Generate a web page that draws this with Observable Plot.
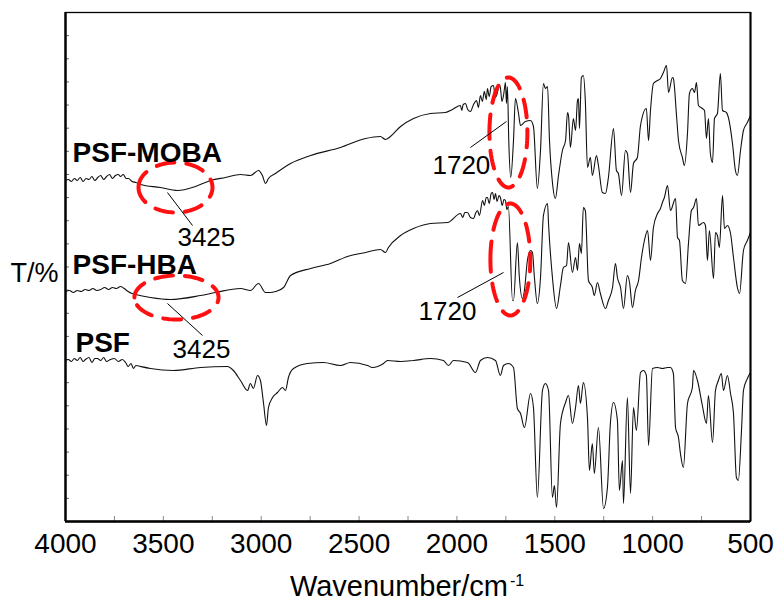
<!DOCTYPE html>
<html>
<head>
<meta charset="utf-8">
<script src="https://cdn.jsdelivr.net/npm/d3@7"></script>
<script src="https://cdn.jsdelivr.net/npm/@observablehq/plot@0.6"></script>
<style>
  html, body { margin: 0; padding: 0; background: #fff; }
  #chart { width: 777px; height: 609px; }
</style>
</head>
<body>
<div id="chart"></div>
<script>
// Wavenumber (cm^-1) and offset transmittance (arbitrary units)
const mobaWn = [4000,3985,3970,3955,3940,3925,3910,3895,3880,3865,3850,3835,3820,3805,3790,3775,3760,3745,3730,3719,3705,3690,3678,3660,3640,3617,3515,3428,3336,3259,3183,3106,3055,3014,2994,2978,2963,2927,2850,2748,2595,2467,2391,2365,2340,2288,2222,2135,2059,2023,1982,1975,1968,1956,1945,1931,1915,1900,1890,1880,1870,1860,1850,1844,1835,1825,1813,1805,1793,1785,1778,1770,1762,1755,1752,1747,1742,1735,1725,1711,1701,1686,1675,1650,1624,1609,1589,1573,1558,1548,1537,1527,1512,1497,1481,1461,1445,1435,1430,1420,1405,1394,1384,1379,1374,1364,1354,1344,1333,1318,1308,1287,1277,1257,1241,1226,1200,1185,1175,1159,1139,1129,1113,1098,1078,1062,1032,1021,1011,996,975,960,945,929,919,899,894,878,868,848,838,822,812,797,786,776,766,746,735,725,715,705,694,684,669,654,643,623,613,592,577,567,551,536,516,500];
const mobaT  = [341,342,340,343,341,344,340,343,342,345,341,344,346,342,345,347,343,346,347,345,347,343,343,340,339,337,334,331,335,341,344,347,346,351,346,338,343,348,358,366,374,383,385,382,385,395,403,408,409,412,416,411,417,418,412,410,417,421,414,426,420,430,422,433,425,435,436,424,429,437,434,420,426,436,439,418,435,380,344,381,423,409,396,400,401,395,333,371,438,433,435,381,339,323,346,371,381,409,406,374,403,391,421,423,393,444,446,421,354,364,346,366,356,329,328,344,393,351,348,326,371,368,329,358,364,396,413,381,411,438,441,443,449,456,429,444,443,406,381,364,356,388,428,433,429,439,416,413,411,383,403,368,359,403,408,448,411,409,404,378,351,346,371,391,399,406];

const hbaWn = [4000,3980,3960,3940,3920,3900,3880,3860,3840,3820,3800,3780,3760,3740,3719,3700,3680,3660,3642,3566,3464,3310,3234,3106,3055,3014,2978,2953,2927,2886,2850,2748,2646,2559,2467,2391,2365,2350,2288,2222,2135,2048,1982,1970,1960,1946,1931,1915,1905,1895,1885,1869,1860,1850,1844,1835,1825,1818,1810,1803,1795,1785,1778,1768,1760,1752,1745,1737,1716,1711,1691,1681,1665,1655,1640,1624,1614,1604,1589,1573,1558,1537,1532,1512,1491,1471,1456,1440,1430,1410,1394,1384,1374,1364,1354,1344,1328,1308,1298,1282,1267,1241,1226,1205,1190,1180,1164,1149,1129,1118,1103,1088,1072,1057,1042,1026,1011,996,975,960,950,940,924,909,883,873,863,848,832,817,802,791,776,766,740,730,720,710,689,679,669,659,643,633,618,602,587,567,556,536,516,500];
const hbaT  = [230,231,229,231,230,232,231,233,231,232,234,232,234,233,235,233,230,228,227,224,222,226,229,233,231,238,229,229,230,234,246,253,258,265,269,272,269,274,286,293,298,299,308,304,309,309,304,303,308,311,306,321,316,324,324,318,328,329,322,328,320,326,324,316,322,321,312,315,221,221,279,244,223,231,261,271,269,244,218,244,306,318,298,244,213,236,254,256,279,249,264,251,278,268,314,311,241,234,226,239,228,213,221,234,258,244,234,213,246,239,214,231,241,264,281,291,261,294,308,313,319,324,336,311,323,284,281,241,238,278,311,314,323,296,299,296,261,291,243,289,286,274,326,293,296,288,264,234,228,271,281,289];

const psfWn = [4000,3985,3970,3955,3940,3925,3910,3898,3880,3865,3850,3837,3820,3805,3790,3770,3750,3730,3710,3693,3680,3665,3653,3640,3617,3566,3448,3310,3173,3142,3106,3070,3055,3040,3019,3004,2988,2973,2963,2942,2917,2891,2876,2861,2835,2764,2682,2595,2544,2457,2432,2375,2355,2288,2222,2135,2069,2043,2018,1946,1905,1880,1844,1803,1778,1762,1737,1711,1691,1675,1655,1624,1609,1589,1563,1548,1532,1512,1502,1491,1471,1445,1430,1410,1394,1379,1369,1354,1333,1323,1308,1298,1277,1251,1231,1216,1200,1180,1170,1154,1149,1129,1113,1098,1083,1062,1047,1032,1021,1001,975,950,924,909,894,883,868,858,843,822,797,791,771,746,725,715,694,679,664,649,638,618,602,587,572,562,546,536,516,500];
const psfT  = [161,162,160,163,161,164,160,162,164,159,163,163,161,164,160,162,163,160,162,159,155,158,153,156,155,153,151,154,155,151,141,131,138,133,146,141,118,96,114,124,129,134,131,144,153,158,159,156,159,156,154,158,161,160,161,163,161,156,161,159,149,161,164,161,146,156,158,154,113,108,94,128,114,24,131,138,131,24,36,14,98,119,126,98,114,136,118,139,104,51,78,48,94,13,34,98,119,101,31,61,18,124,28,114,91,149,151,146,76,153,154,153,154,154,148,94,84,68,54,118,134,151,141,116,98,126,79,131,141,148,131,146,128,108,44,41,91,131,143,149];

const seriesNames = ["PSF-MOBA", "PSF-HBA", "PSF"];
const seriesWn = [mobaWn, hbaWn, psfWn];
const seriesT = [mobaT, hbaT, psfT];

// Series name labels: [text, wavenumber, T]
const nameLabels = [["PSF-MOBA", 3964, 360], ["PSF-HBA", 3964, 248], ["PSF", 3949, 170]];
// Peak annotations: [text, textWn, textT, leader from wn, T, to wn, T]
const peakLabels = [
  ["3425", 3428, 276, 3479, 329, 3351, 296],
  ["3425", 3453, 164, 3479, 218, 3300, 186],
  ["1720", 2125, 348, 1931, 374, 1747, 400],
  ["1720", 2196, 202, 1997, 224, 1762, 249]
];
// Red dashed ellipses: [centre wn, centre T, half-width wn, half-height T]
const ellipses = [[3438, 334, 189, 25], [3433, 224, 215, 22], [1737, 389, 97, 55], [1727, 262, 102, 56]];

const xTickLabels = [4000, 3500, 3000, 2500, 2000, 1500, 1000, 500];
const xMinorTicks = [4000,3750,3500,3250,3000,2750,2500,2250,2000,1750,1500,1250,1000,750,500];
const yTicks = d3.range(0, 23).map(i => i * 509 / 22);

const spectra = seriesNames.flatMap((name, k) => seriesWn[k].map((w, i) => ({name, wn: w, t: seriesT[k][i]})));

const ellipsePts = ellipses.flatMap(([cx, cy, rx, ry], k) =>
  d3.range(0, 361, 4).map(a => ({k, wn: cx + rx * Math.cos(a * Math.PI / 180), t: cy + ry * Math.sin(a * Math.PI / 180)})));

const leaders = peakLabels.map(d => ({x1: d[3], y1: d[4], x2: d[5], y2: d[6]}));
const font = "Liberation Sans, Arial, Helvetica, sans-serif";

const chart = Plot.plot({
  width: 777,
  height: 609,
  marginLeft: 65,
  marginRight: 27,
  marginTop: 12,
  marginBottom: 88,
  style: {fontFamily: font, background: "#fff", color: "#000"},
  x: {domain: [4000, 500], axis: null},
  y: {domain: [0, 509], axis: null},
  marks: [
    // inside ticks
    Plot.ruleX(xMinorTicks, {x: d => d, y1: 0, y2: 5, stroke: "#888", strokeWidth: 1}),
    Plot.ruleY(yTicks, {y: d => d, x1: 4000, x2: 3980, stroke: "#666", strokeWidth: 1}),
    // spectra
    Plot.line(spectra, {x: "wn", y: "t", z: "name", stroke: "#111", strokeWidth: 1.1, curve: "monotone-x"}),
    // red dashed ellipses
    Plot.line(ellipsePts, {x: "wn", y: "t", z: "k", stroke: "#ff1010", strokeWidth: 4, strokeDasharray: "18,12", strokeLinecap: "round"}),
    // leaders
    Plot.link(leaders, {x1: "x1", y1: "y1", x2: "x2", y2: "y2", stroke: "#000", strokeWidth: 1}),
    // labels
    Plot.text(nameLabels, {x: d => d[1], y: d => d[2], text: d => d[0], textAnchor: "start", lineAnchor: "bottom", fontSize: 28, fontWeight: "bold", fontFamily: font, fill: "#000"}),
    Plot.text(peakLabels, {x: d => d[1], y: d => d[2], text: d => d[0], textAnchor: "start", lineAnchor: "bottom", fontSize: 26, fontFamily: font, fill: "#000"}),
    // frame
    Plot.frame({stroke: "#000", strokeWidth: 1.3}),
    Plot.ruleX([4000], {stroke: "#000", strokeWidth: 2.4}),
    Plot.ruleX([500], {stroke: "#000", strokeWidth: 2}),
    Plot.ruleY([0], {stroke: "#000", strokeWidth: 2.4}),
    // x tick labels
    Plot.axisX(xTickLabels, {anchor: "bottom", tickSize: 0, tickPadding: 12, fontSize: 28, tickFormat: d => String(d), label: null}),
    // axis titles
    Plot.text(["T/%"], {frameAnchor: "left", dx: -55, dy: 6, textAnchor: "start", fontSize: 27, fontFamily: font, fill: "#000"}),
    Plot.text(["Wavenumber/cm"], {frameAnchor: "bottom", dx: 100, dy: 74, textAnchor: "end", lineAnchor: "bottom", fontSize: 29, fontFamily: font, fill: "#000"}),
    Plot.text(["-1"], {frameAnchor: "bottom", dx: 102, dy: 64, textAnchor: "start", lineAnchor: "bottom", fontSize: 16, fontFamily: font, fill: "#000"})
  ]
});
document.getElementById("chart").appendChild(chart);
</script>
</body>
</html>
